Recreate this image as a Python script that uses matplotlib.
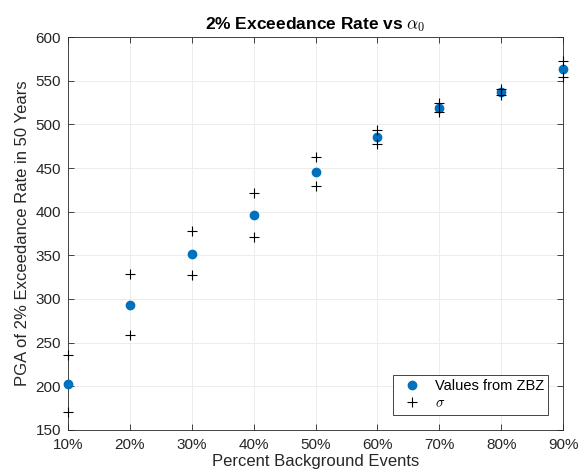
import matplotlib
matplotlib.use("Agg")
import matplotlib.pyplot as plt
from matplotlib.ticker import FuncFormatter

# Data
background_pct = [10, 20, 30, 40, 50, 60, 70, 80, 90]
pga_values = [202, 293, 352, 396, 446, 485, 519, 537, 563]
sigma_upper = [236, 329, 378, 421, 463, 494, 525, 540, 573]
sigma_lower = [170, 259, 327, 371, 429, 478, 514, 534, 554]

plt.rcParams["font.family"] = ["Liberation Sans", "DejaVu Sans"]
plt.rcParams["mathtext.fontset"] = "cm"

fig = plt.figure(figsize=(5.8, 4.76), dpi=100)
ax = fig.add_axes([0.117, 0.097, 0.854, 0.825])

ax.plot(background_pct, pga_values, "o", color="#0072BD", markersize=6,
        label="Values from ZBZ", zorder=3, clip_on=False)
ax.plot(background_pct + background_pct, sigma_upper + sigma_lower, "+",
        color="black", markersize=7, markeredgewidth=0.8,
        label=r"$\sigma$", zorder=4, clip_on=False)

ax.set_xlim(10, 90)
ax.set_ylim(150, 600)
ax.set_xticks(background_pct)
ax.set_yticks(range(150, 601, 50))
ax.xaxis.set_major_formatter(FuncFormatter(lambda v, _: f"{v:.0f}%"))

ax.grid(True, color="#ececec", linewidth=0.7)
ax.set_axisbelow(True)
ax.tick_params(direction="in", top=True, right=True, labelsize=11,
               colors="#262626", length=4, width=0.6)
ax.tick_params(axis="x", pad=6)
ax.tick_params(axis="y", pad=5)
for spine in ax.spines.values():
    spine.set_color("#262626")
    spine.set_linewidth(0.6)

ax.set_xlabel("Percent Background Events", fontsize=12, color="#262626", labelpad=1)
ax.set_ylabel("PGA of 2% Exceedance Rate in 50 Years", fontsize=12, color="#262626")
ax.set_title(r"2% Exceedance Rate vs $\alpha_0$", fontsize=12.5, fontweight="bold", pad=6)

leg = ax.legend(loc="lower right", fontsize=10.5, fancybox=False, framealpha=1,
                borderpad=0.3, handletextpad=0.6, labelspacing=0.2,
                bbox_to_anchor=(0.985, 0.02))
leg.get_frame().set_edgecolor("#262626")
leg.get_frame().set_linewidth(0.6)

fig.savefig("out.png", dpi=100)
